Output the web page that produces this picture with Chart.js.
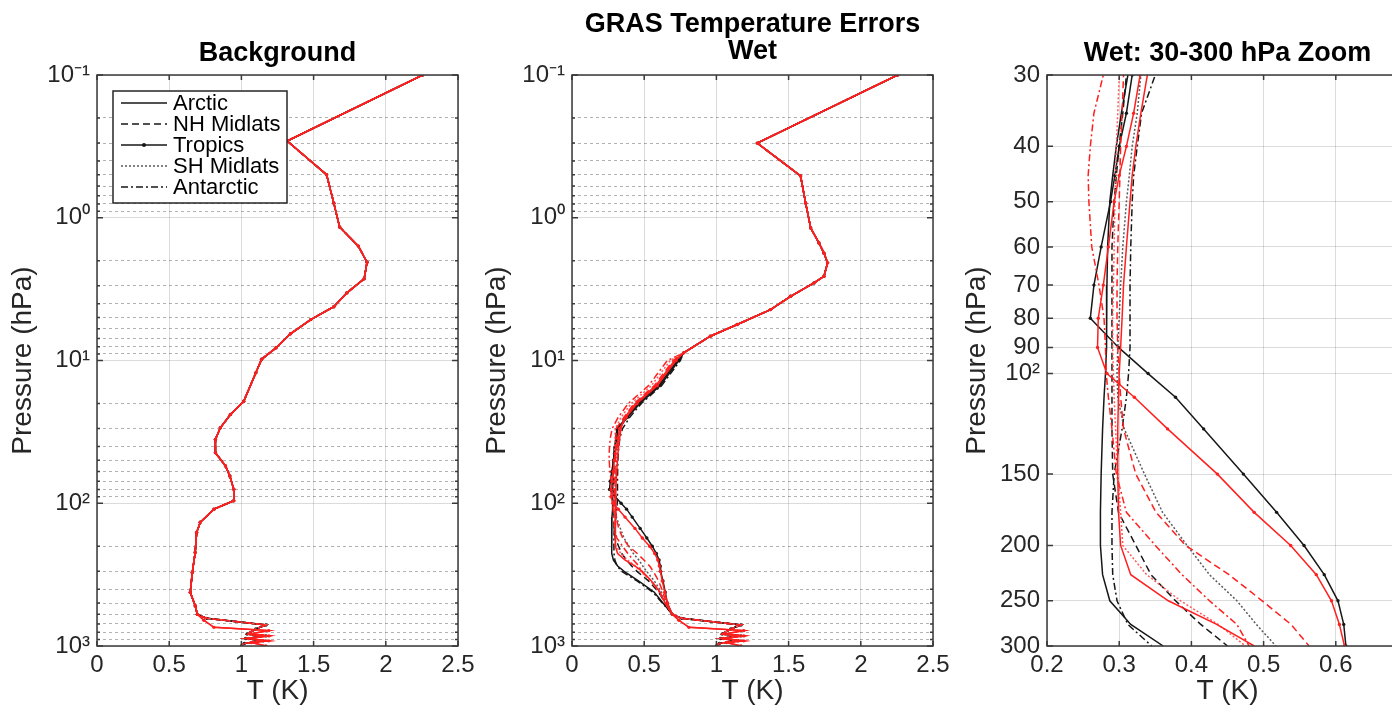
<!DOCTYPE html>
<html>
<head>
<meta charset="utf-8">
<title>GRAS Temperature Errors</title>
<script src="https://cdn.jsdelivr.net/npm/chart.js@4.4.1/dist/chart.umd.min.js"></script>
<style>
  html, body { margin: 0; padding: 0; background: #fff; overflow: hidden; }
  #wrap { position: relative; width: 1392px; height: 705px; overflow: hidden; }
  .panel { position: absolute; top: 0; width: 490px; height: 705px; }
</style>
</head>
<body>
<div id="wrap">
  <div class="panel" style="left:0px"><canvas id="bgChart"></canvas></div>
  <div class="panel" style="left:475px"><canvas id="wetChart"></canvas></div>
  <div class="panel" style="left:950px"><canvas id="zoomChart"></canvas></div>
</div>
<script>
// ---- data (T error in K against pressure in hPa) ----
const regions = ["Arctic", "NH Midlats", "Tropics", "SH Midlats", "Antarctic"];

// Background panel, same profile for every region
const bgP = [0.1, 0.29, 0.5, 0.79, 1.16, 1.58, 2.05, 2.68, 3.36, 4.2, 5.17, 6.5, 8.15, 9.8, 12.2, 19.3, 23.9, 29.6, 35.7, 44.2, 54.8, 64.4, 79.8, 96, 110, 136, 160, 221, 305, 421, 523];
const bgT = [2.255, 1.317, 1.59, 1.64, 1.68, 1.81, 1.87, 1.85, 1.73, 1.64, 1.48, 1.34, 1.24, 1.14, 1.10, 1.016, 0.924, 0.854, 0.82, 0.82, 0.89, 0.92, 0.947, 0.947, 0.81, 0.715, 0.69, 0.68, 0.66, 0.646, 0.68];

// near-surface part, two shapes (lower and upper branch)
const surfLowP = [600, 660, 740, 780, 825, 850, 885, 920, 945, 1000];
const surfLowT = [0.695, 0.74, 0.81, 1.19, 1.06, 1.19, 1.05, 1.19, 1.07, 1.17];
const surfUpP = [600, 640, 712, 760, 825, 850, 885, 920, 960, 1000];
const surfUpT = [0.695, 0.76, 1.17, 1.10, 1.04, 1.17, 1.03, 1.15, 1.02, 1.0];

// Wet panel, upper stratosphere (all regions together)
const wetUpP = [0.1, 0.3, 0.51, 0.79, 1.18, 1.5, 1.77, 2.07, 2.57, 2.86, 3.55, 4.4, 5.6, 6.76, 8.84];
const wetUpT = [2.255, 1.283, 1.583, 1.618, 1.653, 1.71, 1.745, 1.77, 1.745, 1.676, 1.514, 1.375, 1.144, 0.958, 0.773];

// Wet panel, 10-500 hPa per region
const wetP = [10, 15, 20, 25, 30, 35, 40, 45, 50, 60, 70, 80, 90, 100, 110, 125, 150, 175, 200, 225, 250, 275, 300, 350, 420, 500];
const arcticBlack    = [0.73, 0.60, 0.46, 0.38, 0.312, 0.303, 0.296, 0.291, 0.287, 0.284, 0.283, 0.283, 0.282, 0.281, 0.279, 0.277, 0.275, 0.274, 0.274, 0.277, 0.287, 0.316, 0.361, 0.46, 0.57, 0.63];
const nhBlack        = [0.72, 0.59, 0.45, 0.37, 0.31, 0.305, 0.30, 0.296, 0.293, 0.29, 0.29, 0.29, 0.29, 0.29, 0.29, 0.29, 0.291, 0.299, 0.323, 0.344, 0.378, 0.413, 0.45, 0.53, 0.60, 0.645];
const tropicsBlack   = [0.74, 0.61, 0.47, 0.385, 0.318, 0.31, 0.30, 0.294, 0.288, 0.275, 0.265, 0.26, 0.299, 0.34, 0.378, 0.417, 0.472, 0.518, 0.556, 0.584, 0.603, 0.611, 0.614, 0.63, 0.646, 0.66];
const shBlack        = [0.73, 0.60, 0.46, 0.38, 0.33, 0.325, 0.318, 0.314, 0.31, 0.305, 0.302, 0.30, 0.298, 0.297, 0.298, 0.307, 0.335, 0.36, 0.394, 0.425, 0.463, 0.49, 0.517, 0.57, 0.62, 0.65];
const antarcticBlack = [0.75, 0.62, 0.48, 0.40, 0.35, 0.331, 0.325, 0.32, 0.318, 0.316, 0.315, 0.315, 0.315, 0.313, 0.31, 0.304, 0.293, 0.29, 0.29, 0.291, 0.297, 0.312, 0.345, 0.45, 0.56, 0.625];
const arcticRed      = [0.71, 0.58, 0.44, 0.365, 0.339, 0.33, 0.323, 0.318, 0.315, 0.31, 0.306, 0.304, 0.302, 0.30, 0.299, 0.298, 0.298, 0.299, 0.302, 0.316, 0.368, 0.435, 0.487, 0.55, 0.61, 0.645];
const nhRed          = [0.70, 0.57, 0.43, 0.36, 0.306, 0.304, 0.302, 0.301, 0.30, 0.298, 0.297, 0.297, 0.298, 0.30, 0.302, 0.306, 0.323, 0.351, 0.392, 0.452, 0.498, 0.538, 0.563, 0.60, 0.63, 0.655];
const tropicsRed     = [0.72, 0.59, 0.45, 0.375, 0.329, 0.32, 0.31, 0.30, 0.293, 0.285, 0.278, 0.271, 0.27, 0.283, 0.321, 0.367, 0.436, 0.487, 0.5375, 0.573, 0.594, 0.605, 0.612, 0.625, 0.643, 0.66];
const shRed          = [0.68, 0.55, 0.41, 0.34, 0.30, 0.298, 0.296, 0.295, 0.294, 0.293, 0.292, 0.291, 0.291, 0.292, 0.293, 0.295, 0.298, 0.302, 0.305, 0.338, 0.385, 0.437, 0.475, 0.545, 0.605, 0.645];
const antarcticRed   = [0.66, 0.53, 0.39, 0.32, 0.278, 0.265, 0.26, 0.257, 0.258, 0.262, 0.272, 0.279, 0.281, 0.282, 0.285, 0.29, 0.296, 0.31, 0.35, 0.387, 0.425, 0.463, 0.48, 0.55, 0.607, 0.645];

const wetBlack = [arcticBlack, nhBlack, tropicsBlack, shBlack, antarcticBlack];
const wetRed = [arcticRed, nhRed, tropicsRed, shRed, antarcticRed];

// which near-surface branch each run follows (0 = lower, 1 = upper)
const redBranch = [0, 1, 0, 1, 1];
const blackBranch = [1, 1, 1, 1, 1];

// axis ticks
const fullTicks = [0.1, 1, 10, 100, 1000];
const fullTickLabels = ["10\u207B\u00B9", "10\u2070", "10\u00B9", "10\u00B2", "10\u00B3"];
const minorMult = [2, 3, 4, 5, 6, 7, 8, 9];
const zoomTicks = [30, 40, 50, 60, 70, 80, 90, 100, 150, 200, 250, 300];
const zoomTickLabels = ["30", "40", "50", "60", "70", "80", "90", "10\u00B2", "150", "200", "250", "300"];

// ---- styles ----
const BLACK = "#171717";
const RED = "#ff1f1f";
const TXT = "#262626";
const FONT = '"Liberation Sans", Arial, Helvetica, sans-serif';
const GRID = "rgba(0,0,0,0.14)";
const MINOR = "rgba(0,0,0,0.30)";
const regionDash = [[], [7, 4], [], [2, 2], [7, 3, 2, 3]];
const regionDots = [0, 0, 1.7, 0, 0];
// the dotted SH line reads lighter in the original
const blackShade = [BLACK, BLACK, BLACK, "#5a5a5a", BLACK];
const redShade = [RED, RED, RED, "#ff5a5a", RED];

function pts(pList, tList) {
  return pList.map((p, i) => ({ x: tList[i], y: p }));
}

function surface(branch) {
  return branch ? pts(surfUpP, surfUpT) : pts(surfLowP, surfLowT);
}

function profile(color, r, data) {
  return {
    label: regions[r],
    data: data,
    borderColor: color,
    backgroundColor: color,
    borderWidth: 1.5,
    borderDash: regionDash[r],
    pointRadius: regionDots[r],
    pointBorderWidth: 0,
    pointBackgroundColor: color,
    tension: 0,
    fill: false
  };
}

// red first so it is drawn on top of black
function bgSets() {
  const red = regions.map((_, r) => profile(redShade[r], r, pts(bgP, bgT).concat(surface(redBranch[r]))));
  const black = regions.map((_, r) => profile(blackShade[r], r, pts(bgP, bgT).concat(surface(blackBranch[r]))));
  return red.concat(black);
}

function wetSets() {
  const red = wetRed.map((t, r) => profile(redShade[r], r, pts(wetUpP, wetUpT).concat(pts(wetP, t), surface(redBranch[r]))));
  const black = wetBlack.map((t, r) => profile(blackShade[r], r, pts(wetUpP, wetUpT).concat(pts(wetP, t), surface(blackBranch[r]))));
  return red.concat(black);
}

const fullGrid = [];
fullTicks.forEach(d => {
  fullGrid.push(d);
  if (d < 1000) minorMult.forEach(m => fullGrid.push(d * m));
});

function findTick(list, v) {
  return list.findIndex(t => Math.abs(t - v) < t * 1e-6);
}

function xAxis(min, max, step) {
  return {
    type: "linear",
    position: "bottom",
    min: min,
    max: max,
    afterFit: s => { s.height = 59; },
    ticks: {
      stepSize: step,
      autoSkip: false,
      padding: 5,
      color: TXT,
      font: { family: FONT, size: 24 },
      callback: v => String(+v.toFixed(2))
    },
    grid: { drawTicks: false, color: GRID, lineWidth: 1 },
    border: { display: false },
    title: {
      display: true,
      text: "T (K)",
      color: TXT,
      font: { family: FONT, size: 28, lineHeight: 1 },
      padding: { top: 0, bottom: 0 }
    }
  };
}

function yAxis(zoom, titlePad) {
  const ax = {
    type: "logarithmic",
    position: "left",
    reverse: true,
    afterFit: s => { s.width = 97; },
    ticks: {
      autoSkip: false,
      padding: 7,
      color: TXT,
      font: { family: FONT, size: 24 }
    },
    border: { display: false },
    title: {
      display: true,
      text: "Pressure (hPa)",
      color: TXT,
      font: { family: FONT, size: 28, lineHeight: 1 },
      padding: { top: titlePad, bottom: 0 }
    }
  };
  if (zoom) {
    ax.min = 30;
    ax.max = 300;
    ax.afterBuildTicks = s => { s.ticks = zoomTicks.map(v => ({ value: v, major: true })); };
    ax.ticks.callback = v => { const i = findTick(zoomTicks, v); return i >= 0 ? zoomTickLabels[i] : ""; };
    ax.grid = { drawTicks: false, color: GRID, lineWidth: 1 };
  } else {
    ax.min = 0.1;
    ax.max = 1000;
    ax.afterBuildTicks = s => { s.ticks = fullGrid.map(v => ({ value: v, major: findTick(fullTicks, v) >= 0 })); };
    ax.ticks.callback = v => { const i = findTick(fullTicks, v); return i >= 0 ? fullTickLabels[i] : ""; };
    ax.grid = { drawTicks: false, lineWidth: 1, color: c => (c.tick && !c.tick.major) ? MINOR : GRID };
    ax.border.dash = c => (c.tick && !c.tick.major) ? [3, 3] : [];
  }
  return ax;
}

// box round the axes with inward tick marks
const frame = {
  id: "frame",
  afterDraw(chart) {
    const { ctx, chartArea: a, scales: { x, y } } = chart;
    ctx.save();
    ctx.strokeStyle = "#3a3a3a";
    ctx.lineWidth = 1.5;
    ctx.strokeRect(a.left, a.top, a.right - a.left, a.bottom - a.top);
    ctx.beginPath();
    x.ticks.forEach(t => {
      const px = x.getPixelForValue(t.value);
      ctx.moveTo(px, a.bottom); ctx.lineTo(px, a.bottom - 5);
      ctx.moveTo(px, a.top); ctx.lineTo(px, a.top + 5);
    });
    y.ticks.forEach(t => {
      const py = y.getPixelForValue(t.value);
      const len = t.major ? 6 : 3;
      ctx.moveTo(a.left, py); ctx.lineTo(a.left + len, py);
      ctx.moveTo(a.right, py); ctx.lineTo(a.right - len, py);
    });
    ctx.stroke();
    ctx.restore();
  }
};

// matlab-like legend inside the first panel
const legendBox = {
  id: "legendBox",
  afterDatasetsDraw(chart) {
    const { ctx, chartArea: a } = chart;
    const x0 = a.left + 16, y0 = a.top + 16, w = 174, h = 112;
    ctx.save();
    ctx.fillStyle = "#fff";
    ctx.fillRect(x0, y0, w, h);
    ctx.strokeStyle = "#262626";
    ctx.lineWidth = 1.5;
    ctx.strokeRect(x0, y0, w, h);
    ctx.font = "22px " + FONT;
    ctx.textBaseline = "middle";
    regions.forEach((name, r) => {
      const yy = y0 + 12 + r * 21;
      ctx.strokeStyle = blackShade[r];
      ctx.lineWidth = 1.5;
      ctx.setLineDash(regionDash[r]);
      ctx.beginPath();
      ctx.moveTo(x0 + 8, yy);
      ctx.lineTo(x0 + 54, yy);
      ctx.stroke();
      ctx.setLineDash([]);
      if (regionDots[r]) {
        ctx.fillStyle = BLACK;
        ctx.beginPath();
        ctx.arc(x0 + 31, yy, 2, 0, 2 * Math.PI);
        ctx.fill();
      }
      ctx.fillStyle = "#000";
      ctx.fillText(name, x0 + 60, yy + 1);
    });
    ctx.restore();
  }
};

function makeChart(id, datasets, title, titlePad, xa, ya, extra) {
  const two = Array.isArray(title);
  return new Chart(document.getElementById(id), {
    type: "line",
    data: { datasets: datasets },
    options: {
      responsive: true,
      maintainAspectRatio: false,
      animation: false,
      indexAxis: "y",
      layout: { padding: { left: 0, right: 32, top: 0, bottom: 0 } },
      plugins: {
        legend: { display: false },
        tooltip: { enabled: false },
        title: {
          display: true,
          text: title,
          fullSize: false,
          color: "#000",
          font: { family: FONT, size: 27, weight: "bold", lineHeight: two ? 1.0 : 1.2 },
          padding: titlePad
        }
      },
      scales: { x: xa, y: ya }
    },
    plugins: [frame].concat(extra || [])
  });
}

makeChart("bgChart", bgSets(), "Background", { top: 37, bottom: 5.6 },
  xAxis(0, 2.5, 0.5), yAxis(false, 9.5), [legendBox]);

makeChart("wetChart", wetSets(), ["GRAS Temperature Errors", "Wet"], { top: 11, bottom: 10 },
  xAxis(0, 2.5, 0.5), yAxis(false, 8.5));

makeChart("zoomChart", wetSets(), "Wet: 30-300 hPa Zoom", { top: 37, bottom: 5.6 },
  xAxis(0.2, 0.7, 0.1), yAxis(true, 13));
</script>
</body>
</html>
